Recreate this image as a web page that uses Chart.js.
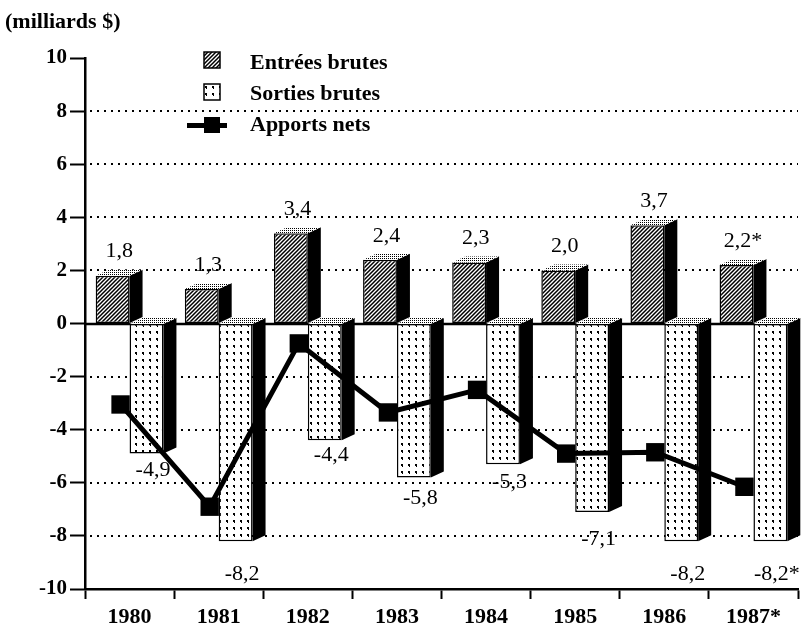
<!DOCTYPE html>
<html lang="fr">
<head>
<meta charset="utf-8">
<title>Entrées et sorties brutes</title>
<script src="https://cdn.jsdelivr.net/npm/chart.js@4"></script>
<style>
  body { margin: 0; background: #fff; }
  canvas { display: block; }
</style>
</head>
<body>
<canvas id="fluxChart" width="811" height="629"></canvas>
<script>
// données (milliards $)
const years = ['1980', '1981', '1982', '1983', '1984', '1985', '1986', '1987*'];
const entrees = [1.8, 1.3, 3.4, 2.4, 2.3, 2.0, 3.7, 2.2];
const sorties = [-4.9, -8.2, -4.4, -5.8, -5.3, -7.1, -8.2, -8.2];
const apports = [-3.05, -6.9, -0.75, -3.35, -2.5, -4.9, -4.85, -6.15];
const seriesNames = ['Entrées brutes', 'Sorties brutes', 'Apports nets'];
const yMin = -10;
const yMax = 10;

const serif = "'Liberation Serif', 'Times New Roman', serif";
const DX = 13, DY = 6;   // profondeur des barres 3D

const canvas = document.getElementById('fluxChart');
const ctx = canvas.getContext('2d');

function makePattern(size, draw) {
  const c = document.createElement('canvas');
  c.width = size; c.height = size;
  const g = c.getContext('2d');
  g.fillStyle = '#fff';
  g.fillRect(0, 0, size, size);
  draw(g, size);
  return ctx.createPattern(c, 'repeat');
}

const hatch = makePattern(4, (g, s) => {
  g.strokeStyle = '#000';
  g.lineWidth = 1.5;
  g.beginPath();
  g.moveTo(0, s); g.lineTo(s, 0);
  g.moveTo(-1, 1); g.lineTo(1, -1);
  g.moveTo(s - 1, s + 1); g.lineTo(s + 1, s - 1);
  g.stroke();
});
const dots = makePattern(7, g => {
  g.fillStyle = '#000';
  g.fillRect(2, 2, 2, 2);
  g.fillRect(3, 4, 1, 1);
});
const stipple = makePattern(2, g => {
  g.fillStyle = '#000';
  g.fillRect(0, 0, 1, 1);
});

const fmt = (v, i) => v.toFixed(1).replace('.', ',') + (years[i].endsWith('*') ? '*' : '');

const dottedGrid = {
  id: 'dottedGrid',
  beforeDatasetsDraw(chart) {
    const { ctx, chartArea: a, scales: { y } } = chart;
    ctx.save();
    ctx.strokeStyle = '#000';
    y.ticks.forEach(t => {
      const v = t.value;
      if (v === yMin || v === yMax || v % 2 !== 0) return;
      const py = Math.round(y.getPixelForValue(v));
      ctx.beginPath();
      if (v === 0) {
        ctx.setLineDash([]);
        ctx.lineWidth = 2.5;
        ctx.moveTo(a.left, py);
      } else {
        ctx.setLineDash([2, 5]);
        ctx.lineWidth = 2;
        ctx.moveTo(a.left + 5, py);
      }
      ctx.lineTo(a.right, py);
      ctx.stroke();
    });
    ctx.restore();
  }
};

const bar3d = {
  id: 'bar3d',
  afterDatasetDraw(chart, args) {
    if (args.meta.type !== 'bar') return;
    const c = chart.ctx;
    c.save();
    args.meta.data.forEach(bar => {
      const { x, y, base, width } = bar.getProps(['x', 'y', 'base', 'width'], true);
      const l = x - width / 2, r = x + width / 2;
      const top = Math.min(y, base), bot = Math.max(y, base);
      c.fillStyle = '#000';
      c.beginPath();
      c.moveTo(r, top); c.lineTo(r + DX, top - DY);
      c.lineTo(r + DX, bot - DY); c.lineTo(r, bot);
      c.closePath(); c.fill();
      c.fillStyle = stipple;
      c.beginPath();
      c.moveTo(l, top); c.lineTo(l + DX, top - DY);
      c.lineTo(r + DX, top - DY); c.lineTo(r, top);
      c.closePath(); c.fill();
    });
    c.restore();
  }
};

// la courbe est dessinee un peu a gauche du centre, comme l'original
const lineShift = {
  id: 'lineShift',
  beforeDatasetDraw(chart, args) {
    if (args.meta.type === 'line') { chart.ctx.save(); chart.ctx.translate(-9, 0); }
  },
  afterDatasetDraw(chart, args) {
    if (args.meta.type === 'line') chart.ctx.restore();
  }
};

const labelsAndLegend = {
  id: 'labelsAndLegend',
  afterDraw(chart) {
    const c = chart.ctx;
    c.save();
    c.fillStyle = '#000';
    c.textAlign = 'center';
    c.textBaseline = 'middle';
    c.font = '22px ' + serif;
    chart.getDatasetMeta(0).data.forEach((bar, i) => {
      c.fillText(fmt(entrees[i], i), bar.x + DX / 2, bar.y - 24);
    });
    // sous les longues barres l'etiquette descend un peu plus
    chart.getDatasetMeta(1).data.forEach((bar, i) => {
      const gap = 15 + 5 * Math.max(0, Math.abs(sorties[i]) - 4.6);
      c.fillText(fmt(sorties[i], i), bar.x + DX / 2, bar.y + gap);
    });

    // titre de l'axe
    c.textAlign = 'left';
    c.font = 'bold 22px ' + serif;
    c.fillText('(milliards $)', 5, 22);

    // legende
    c.fillText(seriesNames[0], 250, 63);
    c.fillText(seriesNames[1], 250, 94);
    c.fillText(seriesNames[2], 250, 125);
    c.lineWidth = 1.5;
    c.strokeStyle = '#000';
    c.fillStyle = hatch;
    c.fillRect(204, 52, 16, 16);
    c.strokeRect(204, 52, 16, 16);
    c.fillStyle = dots;
    c.fillRect(204, 84, 16, 16);
    c.strokeRect(204, 84, 16, 16);
    c.fillStyle = '#000';
    c.fillRect(187, 123, 40, 5);
    c.fillRect(204, 117, 16, 16);
    c.restore();
  }
};

new Chart(ctx, {
  type: 'bar',
  data: {
    labels: years,
    datasets: [
      {
        label: seriesNames[0],
        data: entrees,
        backgroundColor: hatch,
        borderColor: '#000',
        borderWidth: 1.5,
        borderSkipped: false
      },
      {
        label: seriesNames[1],
        data: sorties,
        backgroundColor: dots,
        borderColor: '#000',
        borderWidth: 1.5,
        borderSkipped: false
      },
      {
        type: 'line',
        label: seriesNames[2],
        data: apports,
        borderColor: '#000',
        backgroundColor: '#000',
        borderWidth: 5,
        pointStyle: 'rect',
        pointRadius: 13,
        pointBorderWidth: 0,
        tension: 0,
        order: -1
      }
    ]
  },
  options: {
    responsive: false,
    animation: false,
    devicePixelRatio: 1,
    layout: { padding: { top: 58, right: 6, left: 0, bottom: 0 } },
    categoryPercentage: 0.76,
    barPercentage: 1,
    plugins: {
      legend: { display: false },
      tooltip: { enabled: false }
    },
    scales: {
      x: {
        afterFit: s => { s.height = 40; },
        grid: {
          offset: true,
          drawOnChartArea: false,
          tickLength: 10,
          tickWidth: 2,
          tickColor: '#000'
        },
        border: { color: '#000', width: 2.5 },
        ticks: {
          color: '#000',
          padding: 5,
          maxRotation: 0,
          font: { family: serif, size: 22, weight: 'bold' }
        }
      },
      y: {
        min: yMin,
        max: yMax,
        afterFit: s => { s.width = 85; },
        grid: {
          drawOnChartArea: false,
          tickLength: 15,
          tickWidth: 2,
          tickColor: '#000'
        },
        border: { color: '#000', width: 2.5 },
        ticks: {
          stepSize: 1,
          color: '#000',
          padding: 3,
          font: { family: serif, size: 21, weight: 'bold' },
          callback: v => (v % 2 === 0 ? v : '')
        }
      }
    }
  },
  plugins: [dottedGrid, bar3d, lineShift, labelsAndLegend]
});
</script>
</body>
</html>
